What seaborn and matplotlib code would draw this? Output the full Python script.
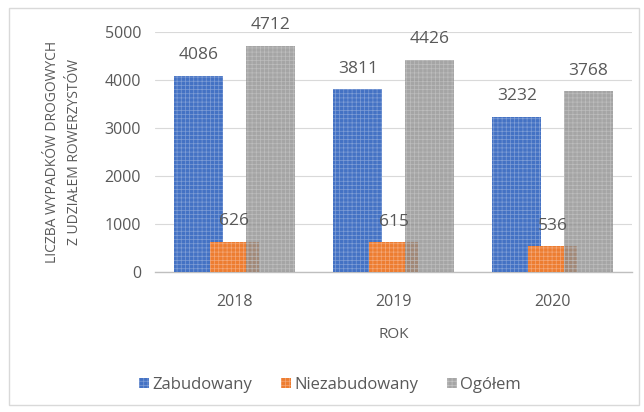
import matplotlib
matplotlib.use("Agg")
import matplotlib.pyplot as plt
import matplotlib.patches as mpatches
import seaborn as sns
import pandas as pd

# data
years = ["2018", "2019", "2020"]
zabudowany = [4086, 3811, 3232]
niezabudowany = [626, 615, 536]
ogolem = [4712, 4426, 3768]
series_names = ["Zabudowany", "Niezabudowany", "Ogółem"]

colors = ["#4472C4", "#ED7D31", "#A5A5A5"]
hatch_colors = ["#7F9ED6", "#F4A878", "#C4C4C4"]
txt = "#595959"

df = pd.DataFrame({
    "rok": years * 3,
    "seria": [s for s in series_names for _ in years],
    "wartosc": zabudowany + niezabudowany + ogolem,
})

sns.set_style("white")
plt.rcParams["font.family"] = ["Open Sans", "DejaVu Sans"]
plt.rcParams["hatch.linewidth"] = 0.5

fig = plt.figure(figsize=(6.44, 4.12), dpi=100)
ax = fig.add_axes([155 / 644, 1 - 272 / 412, 477 / 644, 240 / 412])

sns.barplot(data=df, x="rok", y="wartosc", hue="seria", hue_order=series_names,
            palette=colors, ax=ax, legend=False, saturation=1)

# overlapping bars like in the original
width = 0.31
offsets = [-0.225, 0.0, 0.225]
for i, cont in enumerate(ax.containers):
    for j, p in enumerate(cont.patches):
        p.set_width(width)
        p.set_x(j + offsets[i] - width / 2)
        p.set_hatch("++++")
        p.set_edgecolor(hatch_colors[i])
        p.set_linewidth(0)
        p.set_zorder(3 + i)
        if i == 2:
            # gray slightly see-through so the orange shows under it
            p.set_facecolor("#8C8C8C")
            p.set_alpha(0.78)
    labels = ax.bar_label(cont, padding=9, color=txt, fontsize=12.5)
    for t in labels:
        t.set_zorder(10)

ax.set_xlim(-0.5, 2.5)
ax.set_ylim(0, 5000)
ax.set_yticks(range(0, 5001, 1000))
ax.yaxis.grid(True, color="#D9D9D9", linewidth=0.8)
ax.set_axisbelow(True)
for s in ["top", "right", "left"]:
    ax.spines[s].set_visible(False)
ax.spines["bottom"].set_color("#BFBFBF")
ax.spines["bottom"].set_linewidth(1)
ax.tick_params(axis="y", colors=txt, labelsize=11.5, length=0, pad=10)
ax.tick_params(axis="x", colors=txt, labelsize=11.5, length=0, pad=16)
ax.set_xlabel("ROK", color=txt, fontsize=11, labelpad=12)
ax.set_ylabel("LICZBA WYPADKÓW DROGOWYCH\nZ UDZIAŁEM ROWERZYSTÓW", color=txt,
              fontsize=10, labelpad=16, linespacing=1.7)

handles = [mpatches.Patch(facecolor=c, edgecolor=h, hatch="++++", linewidth=0, label=n)
           for c, h, n in zip(colors, hatch_colors, series_names)]
fig.legend(handles=handles, loc="center", bbox_to_anchor=(330 / 644, 1 - 385 / 412),
           ncol=3, frameon=False, fontsize=12, labelcolor=txt, handlelength=0.6,
           handleheight=0.6, handletextpad=0.2, columnspacing=1.7)

fig.patches.append(mpatches.Rectangle((9 / 644, 7 / 412), 630 / 644, 397 / 412,
                                      transform=fig.transFigure, fill=False,
                                      edgecolor="#D9D9D9", linewidth=1))

fig.savefig("out.png", dpi=100, facecolor="white")
